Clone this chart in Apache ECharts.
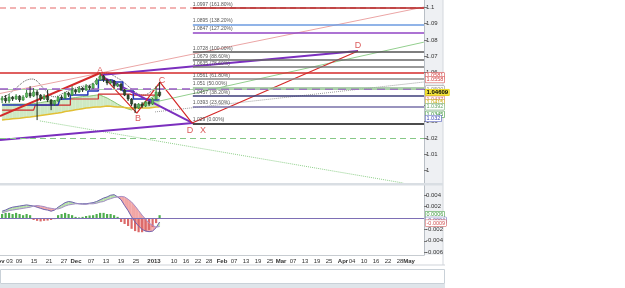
<!DOCTYPE html>
<html><head><meta charset="utf-8">
<script src="https://cdn.jsdelivr.net/npm/echarts@6/dist/echarts.min.js"></script>
<style>html,body{margin:0;padding:0;background:#fff}#c{width:625px;height:288px}</style>
</head><body><div id="c"></div>
<script>
// ---------- DATA ----------
const X_MIN = -0.6, X_MAX = 120.54;           // bar-index extent of the time axis
// candles: [open, close, low, high]
const candles = [
[1.0433,1.0445,1.0414,1.0457],[1.0445,1.0427,1.0414,1.0463],[1.0427,1.0451,1.0414,1.0469],[1.0451,1.0439,1.0427,1.0457],
[1.0439,1.0457,1.0433,1.0469],[1.0457,1.0433,1.0420,1.0463],[1.0433,1.0451,1.0427,1.0463],[1.0451,1.0476,1.0445,1.0494],
[1.0476,1.0457,1.0445,1.0518],[1.0457,1.0482,1.0451,1.0506],[1.0482,1.0463,1.0310,1.0494],[1.0463,1.0439,1.0427,1.0469],
[1.0439,1.0457,1.0433,1.0469],[1.0457,1.0433,1.0420,1.0494],[1.0433,1.0408,1.0371,1.0439],[1.0408,1.0427,1.0396,1.0433],
[1.0427,1.0451,1.0420,1.0457],[1.0451,1.0445,1.0433,1.0463],[1.0445,1.0476,1.0439,1.0482],[1.0476,1.0463,1.0451,1.0482],
[1.0463,1.0494,1.0457,1.0518],[1.0494,1.0482,1.0469,1.0500],[1.0482,1.0506,1.0476,1.0518],[1.0506,1.0494,1.0482,1.0512],
[1.0494,1.0518,1.0488,1.0531],[1.0518,1.0506,1.0494,1.0524],[1.0506,1.0531,1.0500,1.0537],[1.0531,1.0555,1.0524,1.0567],
[1.0555,1.0580,1.0549,1.0598],[1.0580,1.0555,1.0543,1.0586],[1.0555,1.0537,1.0524,1.0561],[1.0537,1.0549,1.0531,1.0561],
[1.0549,1.0518,1.0506,1.0555],[1.0518,1.0531,1.0512,1.0537],[1.0531,1.0494,1.0488,1.0537],[1.0494,1.0463,1.0457,1.0500],
[1.0463,1.0439,1.0427,1.0469],[1.0439,1.0408,1.0396,1.0445],[1.0408,1.0384,1.0353,1.0414],[1.0384,1.0408,1.0378,1.0414],
[1.0408,1.0396,1.0384,1.0420],[1.0396,1.0420,1.0390,1.0427],[1.0420,1.0408,1.0396,1.0427],[1.0408,1.0439,1.0402,1.0445],
[1.0439,1.0482,1.0433,1.0518],[1.0482,1.0461,1.0451,1.0543]
];
const spanA = [1.0408,1.0408,1.0408,1.0408,1.0408,1.0408,1.0408,1.0408,1.0408,1.0411,1.0414,1.0417,1.0421,1.0424,1.0427,1.0430,1.0433,1.0436,1.0439,1.0442,1.0445,1.0448,1.0451,1.0454,1.0457,1.0457,1.0460,1.0463,1.0463,1.0454,1.0445,1.0433,1.0421,1.0408,1.0396,1.0387,1.0378,1.0372,1.0384,1.0396,1.0408,1.0427,1.0439,1.0451,1.0463,1.0476];
const spanB = [1.0310,1.0313,1.0315,1.0318,1.0320,1.0322,1.0325,1.0327,1.0329,1.0332,1.0335,1.0338,1.0341,1.0344,1.0347,1.0350,1.0353,1.0357,1.0362,1.0365,1.0369,1.0373,1.0376,1.0380,1.0384,1.0386,1.0388,1.0390,1.0390,1.0393,1.0396,1.0394,1.0392,1.0390,1.0390,1.0387,1.0384,1.0384,1.0384,1.0384,1.0384,1.0384,1.0384,1.0387,1.0390,1.0390];
const tenkan = [1.0402,1.0402,1.0402,1.0402,1.0402,1.0402,1.0402,1.0402,1.0402,1.0402,1.0402,1.0402,1.0402,1.0402,1.0402,1.0402,1.0402,1.0439,1.0439,1.0439,1.0463,1.0463,1.0463,1.0463,1.0463,1.0488,1.0488,1.0488,1.0555,1.0555,1.0555,1.0555,1.0543,1.0543,1.0543,1.0488,1.0488,1.0488,1.0439,1.0439,1.0439,1.0439,1.0433,1.0433,1.0433,1.0433];
const kijun = [1.0371,1.0371,1.0371,1.0371,1.0371,1.0371,1.0371,1.0371,1.0371,1.0371,1.0402,1.0402,1.0402,1.0402,1.0402,1.0402,1.0402,1.0402,1.0402,1.0402,1.0439,1.0439,1.0439,1.0439,1.0439,1.0439,1.0439,1.0439,1.0469,1.0469,1.0469,1.0469,1.0469,1.0469,1.0469,1.0469,1.0469,1.0463,1.0463,1.0463,1.0463,1.0463,1.0463,1.0463,1.0463,1.0463];
const bbUpper = [1.0451,1.0457,1.0469,1.0488,1.0506,1.0525,1.0543,1.0555,1.0561,1.0561,1.0549,1.0525,1.0500,1.0476,1.0457,1.0451,1.0457,1.0469,1.0482,1.0488,1.0500,1.0506,1.0512,1.0518,1.0518,1.0525,1.0537,1.0555,1.0580,1.0598,1.0598,1.0592,1.0580,1.0567,1.0555,1.0537,1.0518,1.0500,1.0482,1.0469,1.0463,1.0463,1.0476,1.0494,1.0512,1.0525];
const macd = [0.0012,0.0014,0.0017,0.0019,0.0020,0.0021,0.0022,0.0023,0.0022,0.0021,0.0019,0.0017,0.0015,0.0014,0.0012,0.0014,0.0019,0.0023,0.0027,0.0029,0.0028,0.0026,0.0025,0.0025,0.0025,0.0026,0.0027,0.0029,0.0032,0.0035,0.0037,0.0040,0.0041,0.0037,0.0032,0.0022,0.0013,0.0002,-0.0007,-0.0014,-0.0020,-0.0023,-0.0024,-0.0023,-0.0017,-0.0007];
const signal = [0.0009,0.0011,0.0013,0.0014,0.0015,0.0016,0.0017,0.0018,0.0019,0.0021,0.0022,0.0021,0.0020,0.0018,0.0017,0.0016,0.0016,0.0018,0.0021,0.0023,0.0024,0.0025,0.0025,0.0024,0.0024,0.0025,0.0025,0.0026,0.0028,0.0029,0.0032,0.0034,0.0036,0.0037,0.0038,0.0037,0.0033,0.0028,0.0021,0.0013,0.0005,-0.0002,-0.0009,-0.0013,-0.0016,-0.0015];
const hist = [0.0007,0.0009,0.0009,0.0007,0.0009,0.0007,0.0005,0.0007,0.0005,-0.00035,-0.0005,-0.0006,-0.0005,-0.00045,-0.00035,-0.0002,0.0005,0.0007,0.0009,0.0007,0.0005,0.0002,0.0001,0.0002,0.00035,0.00045,0.0005,0.0007,0.0009,0.0009,0.0007,0.0007,0.0005,0.0002,-0.0007,-0.00105,-0.0014,-0.0019,-0.0023,-0.0025,-0.0025,-0.0023,-0.0021,-0.0016,-0.0009,0.0005];

const fibStart = 54.5;
const fibPrices = [1.0997,1.0895,1.0847,1.0728,1.0679,1.0635,1.0561,1.0510,1.0457,1.0393,1.0290];
const fibPcts = ['161.80%','138.20%','127.20%','100.00%','88.60%','78.60%','61.80%','50.00%','38.20%','23.60%','0.00%'];
const hLines = [1.1026,1.0581,1.0500,1.0467,1.0188];

const xabcd = [[-0.6,1.0335],[28.0,1.0598],[38.5,1.0353],[45.1,1.0543],[54.3,1.0292],[101.7,1.0733]];
const purpleLow = [[-0.6,1.0188],[54.5,1.0292]];
const purpleAD = [[28.8,1.0573],[54.5,1.0291]];
const purpleUp = [[28.0,1.0586],[101.7,1.0733]];
const pinkTrend = [[-0.6,1.0473],[120.5,1.1002]];
const greenTrend = [[42.3,1.0414],[120.5,1.0787]];
const greenDotTrend = [[10.8,1.0305],[114.6,0.9925]];
const grayDotTrend = [[43.7,1.0360],[120.5,1.0543]];

const letterNames = ['A','B','C','D','X','D'];
const letterX = [28.0,38.8,45.7,53.7,57.4,101.7];
const letterY = [1.0612,1.0322,1.0555,1.0249,1.0249,1.0769];

const priceTags = [1.0581,1.0558,1.0500,1.04609,1.0437,1.0415,1.0392,1.0345,1.032];
const priceTagText = ['1.0581','1.0558','1.0500','1.04609','1.0437','1.0415','1.0392','1.0345','1.032'];
const macdTags = [0.0006,-0.0004,-0.0009];
const macdTagText = ['0.0006','-0.0004','-0.0009'];

const yTicks = [1.0,1.01,1.02,1.03,1.04,1.05,1.06,1.07,1.08,1.09,1.1];
const macdTicks = [-0.006,-0.004,-0.002,0.002,0.004];
const xTickPos = [0.26,4.83,9.11,13.4,17.69,21.11,25.4,29.69,33.97,38.26,43.4,49.11,52.54,55.97,59.11,62.83,66.26,69.69,73.11,76.54,79.69,83.11,86.54,89.97,93.4,97.4,99.97,103.4,106.83,110.26,113.69,116.26];
const xTickText = ['Nov 03','09','15','21','27','Dec','07','13','19','25','2013','10','16','22','28','Feb','07','13','19','25','Mar','07','13','19','25','Apr','04','10','16','22','28','May'];

// ---------- STYLE ----------
const fibColors = ['#b22222','#6c9be0','#9145c4','#555','#666','#777','#8a8a8a','#93c093','#3d3d7a','#7770a8','#111'];
const hLineStyle = [
  {color:'#f2b3b3',width:2,type:[6,4]},{color:'#d42a2a',width:1.5,type:'solid'},
  {color:'#a9cfa9',width:1,type:'solid'},{color:'#9a5cc6',width:1.5,type:[8,5]},{color:'#86c886',width:1,type:[6,4]}];
const tagColors = ['#d23c3c','#d23c3c','#8a8a8a','#000','#d06868','#c8a400','#6aa86a','#2f8f2f','#3a46b4'];
const macdTagColors = ['#3c9a3c','#6060b0','#d05050'];

const chart = echarts.init(document.getElementById('c'));
const pts = arr => arr.map((v,i)=>[i,v]);

function band(name, xi, yi, a, b, colPos, colNeg, z){
  const data=[];
  for(let i=0;i<a.length-1;i++) data.push([i,a[i],b[i],a[i+1],b[i+1]]);
  return {type:'custom', name, xAxisIndex:xi, yAxisIndex:yi, z, silent:true, data, encode:{x:0,y:[1,2]},
    renderItem(p, api){
      const i=api.value(0),a0=api.value(1),b0=api.value(2),a1=api.value(3),b1=api.value(4);
      const d0=a0-b0,d1=a1-b1, ch=[];
      const poly=(q,c)=>ch.push({type:'polygon',shape:{points:q.map(t=>api.coord(t))},style:{fill:c,stroke:c,lineWidth:0.3}});
      if(d0*d1>=0){ poly([[i,a0],[i+1,a1],[i+1,b1],[i,b0]], (d0+d1)>=0?colPos:colNeg); }
      else { const t=d0/(d0-d1), xc=i+t, yc=a0+(a1-a0)*t;
        poly([[i,a0],[xc,yc],[i,b0]], d0>0?colPos:colNeg);
        poly([[xc,yc],[i+1,a1],[i+1,b1]], d1>0?colPos:colNeg); }
      return {type:'group',children:ch};
    }};
}
function line(data, color, width, type, z, extra){
  return Object.assign({type:'line', xAxisIndex:0, yAxisIndex:0, data, symbol:'none', silent:true, z,
    lineStyle:{color, width, type}}, extra||{});
}

const series = [
  band('cloud',0,0,spanA,spanB,'#cfe9c4','#f0e2a4',1),
  line(pts(spanA),'#86c476',1,'solid',2),
  line(pts(spanB),'#e2bf34',1.5,'solid',2),
  line(pts(bbUpper),'#555',1,'dotted',2),
  line(pts(kijun),'#cc2b2b',1.2,'solid',3,{step:'middle'}),
  line(pts(tenkan),'#2336b8',1.5,'solid',3,{step:'middle'}),
  {type:'line', xAxisIndex:0, yAxisIndex:0, data:[], silent:true, z:2,
    markLine:{silent:true, symbol:['none','none'], animation:false,
      data: hLines.map((p,k)=>({yAxis:p, lineStyle:hLineStyle[k], label:{show:false}}))}},
  {type:'line', xAxisIndex:0, yAxisIndex:0, data:[], silent:true, z:3,
    markLine:{silent:true, symbol:['none','none'], animation:false,
      data: fibPrices.map((p,k)=>[
        {name: p+' ('+fibPcts[k]+')', coord:[fibStart,p], lineStyle:{color:fibColors[k],width:1.5,type:'solid'},
         label:{show:true, position:'insideStartTop', formatter:'{b}', fontSize:5, color:'#555', distance:[0,1]}},
        {coord:[X_MAX,p]}])}},
  line(pinkTrend,'#eba5a5',1,'solid',3),
  line(greenTrend,'#93cf8e',1,'solid',3),
  line(greenDotTrend,'#8fcf8a',1,'dotted',3),
  line(grayDotTrend,'#9a9a9a',1,'dotted',3),
  line(purpleLow,'#7b2fbe',2,'solid',4),
  line(purpleAD,'#7b2fbe',2,'solid',4),
  line(purpleUp,'#7b2fbe',2,'solid',4),
  line(xabcd.slice(0,2),'#d42a2a',2,'solid',4),
  line(xabcd.slice(1),'#d42a2a',1.2,'solid',4),
  {type:'custom', xAxisIndex:0, yAxisIndex:0, z:5, silent:true, data:candles.map((c,i)=>[i].concat(c)), encode:{x:0,y:[1,2,3,4]},
    renderItem(p, api){
      const x=api.value(0),o=api.value(1),c=api.value(2),l=api.value(3),h=api.value(4);
      const pO=api.coord([x,o]),pC=api.coord([x,c]),pL=api.coord([x,l]),pH=api.coord([x,h]);
      const up=c>=o, w=2.2, sc=up?'#2e7d32':'#1e301e';
      return {type:'group',children:[
        {type:'line',shape:{x1:pH[0],y1:pH[1],x2:pL[0],y2:pL[1]},style:{stroke:sc,lineWidth:1}},
        {type:'rect',shape:{x:pO[0]-w/2,y:Math.min(pO[1],pC[1]),width:w,height:Math.max(1,Math.abs(pO[1]-pC[1]))},
         style:{fill:up?'#5cb85c':'#2d4a2d',stroke:sc,lineWidth:0.5}}]};
    }},
  {type:'scatter', xAxisIndex:0, yAxisIndex:0, z:6, silent:true, symbolSize:1, itemStyle:{color:'rgba(0,0,0,0)'},
    data: letterNames.map((n,k)=>({name:n, value:[letterX[k],letterY[k]]})),
    label:{show:true, position:'inside', formatter:'{b}', color:'#d23030', fontSize:9}},
  // MACD panel
  band('macdfill',1,1,macd,signal,'#b8e2a9','#f2a7a7',1),
  {type:'custom', xAxisIndex:1, yAxisIndex:1, z:3, silent:true, data:hist.map((v,i)=>[i,v]), encode:{x:0,y:1},
    renderItem(p, api){
      const x=api.value(0), v=api.value(1), p0=api.coord([x,0]), p1=api.coord([x,v]);
      return {type:'rect',shape:{x:p0[0]-1.1,y:Math.min(p0[1],p1[1]),width:2.2,height:Math.abs(p1[1]-p0[1])},
        style:{fill:v>=0?'#4fae4f':'#dc6a6a'}};
    }},
  {type:'line', xAxisIndex:1, yAxisIndex:1, data:pts(macd), symbol:'none', silent:true, z:4, lineStyle:{color:'#6e62b0',width:1}},
  {type:'line', xAxisIndex:1, yAxisIndex:1, data:pts(signal), symbol:'none', silent:true, z:4, lineStyle:{color:'#a58fc8',width:1},
    markLine:{silent:true, symbol:['none','none'], animation:false, label:{show:false},
      data:[{yAxis:0, lineStyle:{color:'#7e6fb5',width:1,type:'solid'}}]}}
];

const xLabelFmt = v => {
  const k = xTickPos.findIndex(p=>Math.abs(p-v)<1e-6);
  if(k<0) return '';
  const t = xTickText[k];
  if(t.indexOf(' ')>0){ const s=t.split(' '); return '{b|'+s[0]+'} '+s[1]; }
  return /^[A-Z]|^2013$/.test(t) ? '{b|'+t+'}' : t;
};
const numFmt = v => String(+(+v).toFixed(4));

chart.setOption({
  animation:false,
  textStyle:{fontFamily:'Liberation Sans, Arial, sans-serif'},
  grid:[{left:0,top:0,width:424,height:183,outerBoundsMode:'none'},{left:0,top:185,width:424,height:70,outerBoundsMode:'none'}],
  xAxis:[
    {gridIndex:0,type:'value',min:X_MIN,max:X_MAX,show:false,axisLine:{onZero:false}},
    {gridIndex:1,type:'value',min:X_MIN,max:X_MAX,splitLine:{show:false},
     axisLine:{show:true,onZero:false,lineStyle:{color:'#c7ccd1'}},
     axisTick:{show:false},
     axisLabel:{customValues:xTickPos,formatter:xLabelFmt,fontSize:6,color:'#333',margin:3,align:'center',
       hideOverlap:false,alignMinLabel:'center',alignMaxLabel:'center',showMinLabel:true,showMaxLabel:true,
       rich:{b:{fontWeight:'bold',fontSize:6,color:'#333'}}}}
  ],
  yAxis:[
    {gridIndex:0,type:'value',position:'right',min:0.9925,max:1.1045,splitLine:{show:false},
     axisLine:{show:true,onZero:false,lineStyle:{color:'#b8bec5'}},
     axisTick:{show:true,length:3,customValues:yTicks,lineStyle:{color:'#777'}},
     axisLabel:{customValues:yTicks,formatter:numFmt,fontSize:6,color:'#333',margin:2}},
    {gridIndex:1,type:'value',position:'right',min:-0.0065,max:0.0058,splitLine:{show:false},
     axisLine:{show:true,onZero:false,lineStyle:{color:'#b8bec5'}},
     axisTick:{show:true,length:3,customValues:macdTicks,lineStyle:{color:'#777'}},
     axisLabel:{customValues:macdTicks,formatter:numFmt,fontSize:6,color:'#333',margin:2}}
  ],
  series
});

// decorations + value tags positioned through the chart's own scales
const g = [
  {type:'rect',z:-1,shape:{x:424,y:0,width:19,height:255},style:{fill:'#eef0f3'}},
  {type:'rect',z:-1,shape:{x:442.5,y:0,width:1,height:265},style:{fill:'#d3d8dd'}},
  {type:'rect',z:10,shape:{x:0,y:183,width:443,height:2.5},style:{fill:'#d9dee3'}},
  {type:'rect',z:10,shape:{x:0,y:264.5,width:445,height:1},style:{fill:'#cfd4d9'}},
  {type:'rect',z:10,shape:{x:0.5,y:269.5,width:444,height:14},style:{fill:'#fff',stroke:'#c9d1d8',lineWidth:1}},
  {type:'rect',z:10,shape:{x:0,y:284,width:445,height:4},style:{fill:'#dfe5ea'}}
];
priceTags.forEach((p,k)=>{
  const c = chart.convertToPixel({xAxisIndex:0,yAxisIndex:0},[X_MAX,p]);
  const hi = k===3;
  g.push({type:'text',z:100,x:c[0]+1.5,y:c[1]-(hi?3:0),style:{text:priceTagText[k],fill:tagColors[k],
    font:(hi?'bold 6px':'5.5px')+' Liberation Sans, Arial, sans-serif',verticalAlign:'middle',
    backgroundColor:hi?'#f3e43c':'#fff',borderColor:hi?'#e0c800':tagColors[k],borderWidth:0.5,padding:[0,1]}});
});
macdTags.forEach((p,k)=>{
  const c = chart.convertToPixel({xAxisIndex:1,yAxisIndex:1},[X_MAX,p]);
  g.push({type:'text',z:100,x:c[0]+1.5,y:c[1],style:{text:macdTagText[k],fill:macdTagColors[k],
    font:'5.5px Liberation Sans, Arial, sans-serif',verticalAlign:'middle',
    backgroundColor:'#fff',borderColor:macdTagColors[k],borderWidth:0.5,padding:[0,1]}});
});
chart.setOption({graphic:g});
</script></body></html>
